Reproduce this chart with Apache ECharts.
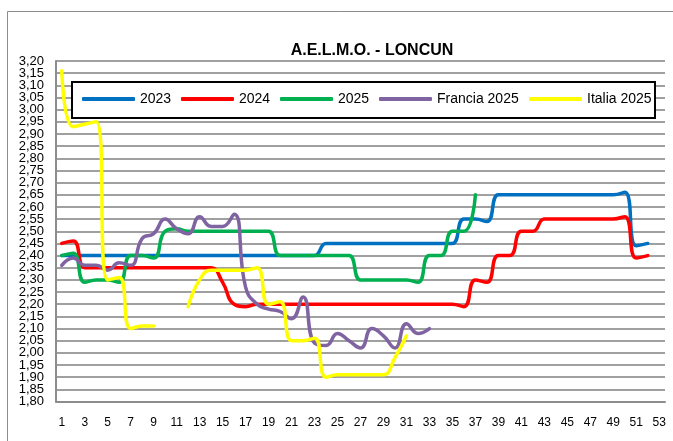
<!DOCTYPE html>
<html>
<head>
<meta charset="utf-8">
<title>A.E.L.M.O. - LONCUN</title>
<script src="https://cdn.jsdelivr.net/npm/echarts@6/dist/echarts.min.js"></script>
<style>
  html, body { margin: 0; padding: 0; background: #fff; }
  #grafica { width: 673px; height: 441px; }
</style>
</head>
<body>
<div id="grafica"></div>
<script>
// semanas 1..53
const semanas = [];
for (let i = 1; i <= 53; i++) semanas.push(String(i));

const nombres = ["2023", "2024", "2025", "Francia 2025", "Italia 2025"];
const colores = ["#0070C0", "#FF0000", "#00B050", "#8064A2", "#FFFF00"];

// etiquetas de los extremos del eje y (la libreria oculta las vecinas si se fuerzan)
const extremosY = ["1,80", "3,20"];

const datos2023 = [
  2.40, 2.40, 2.40, 2.40, 2.40, 2.40, 2.40, 2.40, 2.40, 2.40,
  2.40, 2.40, 2.40, 2.40, 2.40, 2.40, 2.40, 2.40, 2.40, 2.40,
  2.40, 2.40, 2.40, 2.45, 2.45, 2.45, 2.45, 2.45, 2.45, 2.45,
  2.45, 2.45, 2.45, 2.45, 2.45, 2.55, 2.55, 2.54, 2.65, 2.65,
  2.65, 2.65, 2.65, 2.65, 2.65, 2.65, 2.65, 2.65, 2.65, 2.66,
  2.44, 2.45, null
];
const datos2024 = [
  2.45, 2.46, 2.35, 2.35, 2.35, 2.35, 2.35, 2.35, 2.35, 2.35,
  2.35, 2.35, 2.35, 2.35, 2.29, 2.20, 2.19, 2.20, 2.20, 2.20,
  2.20, 2.20, 2.20, 2.20, 2.20, 2.20, 2.20, 2.20, 2.20, 2.20,
  2.20, 2.20, 2.20, 2.20, 2.20, 2.19, 2.30, 2.29, 2.40, 2.40,
  2.50, 2.50, 2.55, 2.55, 2.55, 2.55, 2.55, 2.55, 2.55, 2.56,
  2.39, 2.40, null
];
const datos2025 = [
  2.40, 2.41, 2.29, 2.30, 2.30, 2.29, 2.40, 2.40, 2.39, 2.50,
  2.51, 2.50, 2.50, 2.50, 2.50, 2.50, 2.50, 2.50, 2.50, 2.40,
  2.40, 2.40, 2.40, 2.40, 2.40, 2.40, 2.30, 2.30, 2.30, 2.30,
  2.30, 2.29, 2.40, 2.40, 2.50, 2.50, 2.65
];
const datosFrancia = [
  2.36, 2.39, 2.36, 2.36, 2.34, 2.37, 2.36, 2.47, 2.49, 2.55,
  2.51, 2.49, 2.56, 2.52, 2.52, 2.57, 2.27, 2.20, 2.18, 2.17,
  2.14, 2.23, 2.04, 2.03, 2.08, 2.05, 2.02, 2.10, 2.07, 2.02,
  2.12, 2.08, 2.10
];
const datosItalia = [
  3.16, 2.93, 2.94, 2.95, 2.30, 2.31, 2.10, 2.11, 2.11, null,
  null, 2.19, 2.30, 2.34, 2.34, 2.34, 2.34, 2.35, 2.20, 2.21,
  2.05, 2.05, 2.06, 1.90, 1.91, 1.91, 1.91, 1.91, 1.91, 1.98,
  2.07
];
const series = [datos2023, datos2024, datos2025, datosFrancia, datosItalia];

// posicion x de cada item de la leyenda (inicio de la linea)
const leyendaX = [82, 181, 280, 379, 529];

const fuente = "Liberation Sans, Arial, sans-serif";

let myChart = echarts.init(document.getElementById("grafica"));

myChart.setOption({
  animation: false,
  backgroundColor: "#fff",
  title: {
    text: "A.E.L.M.O. - LONCUN",
    left: 367, top: 38,
    textAlign: "center",
    textStyle: { fontFamily: fuente, fontWeight: "bold", fontSize: 16, color: "#000" }
  },
  graphic: [
    // borde del area del grafico
    { type: "rect", shape: { x: 7.5, y: 11.5, width: 700, height: 450 },
      style: { fill: null, stroke: "#8c8c8c", lineWidth: 1 }, z: 0 },
    // caja de la leyenda
    { type: "rect", shape: { x: 72, y: 82, width: 583, height: 36 },
      style: { fill: "#fff", stroke: "#000", lineWidth: 2 }, z: 5 }
  ],
  legend: nombres.map((n, i) => ({
    data: [n],
    left: leyendaX[i],
    top: 92,
    padding: 0,
    icon: "roundRect",
    itemWidth: 53,
    itemHeight: 4,
    z: 6,
    textStyle: { fontFamily: fuente, fontSize: 14, color: "#000" }
  })),
  grid: { left: 56, right: 8, top: 61, bottom: 39.5, containLabel: false },
  xAxis: {
    type: "category",
    data: semanas,
    boundaryGap: true,
    axisLine: { show: true, lineStyle: { color: "#8c8c8c", width: 2 } },
    axisTick: { show: false },
    axisLabel: { interval: 1, margin: 15, fontFamily: fuente, fontSize: 12, color: "#000" }
  },
  yAxis: [
    {
      type: "value",
      min: 1.8, max: 3.2, interval: 0.05,
      axisLine: { show: true, lineStyle: { color: "#8c8c8c", width: 2 } },
      axisTick: { show: false },
      splitLine: { lineStyle: { color: "#a0a0a0", width: 2 } },
      axisLabel: {
        margin: 12, fontFamily: fuente, fontSize: 13, color: "#000",
        showMinLabel: false, showMaxLabel: false,
        formatter: (v) => v.toFixed(2).replace(".", ",")
      }
    },
    {
      // solo los extremos 1,80 y 3,20
      type: "category",
      data: extremosY,
      boundaryGap: false,
      position: "left",
      axisLine: { show: false },
      axisTick: { show: false },
      splitLine: { show: false },
      axisLabel: { interval: 0, margin: 12, fontFamily: fuente, fontSize: 13, color: "#000" }
    }
  ],
  series: series.map((d, i) => ({
    name: nombres[i],
    type: "line",
    data: d,
    smooth: 0.5,
    connectNulls: false,
    showSymbol: false,
    symbol: "none",
    color: colores[i],
    lineStyle: { width: 3.5, color: colores[i], cap: "round", join: "round" },
    z: 2 + i
  }))
});
</script>
</body>
</html>
